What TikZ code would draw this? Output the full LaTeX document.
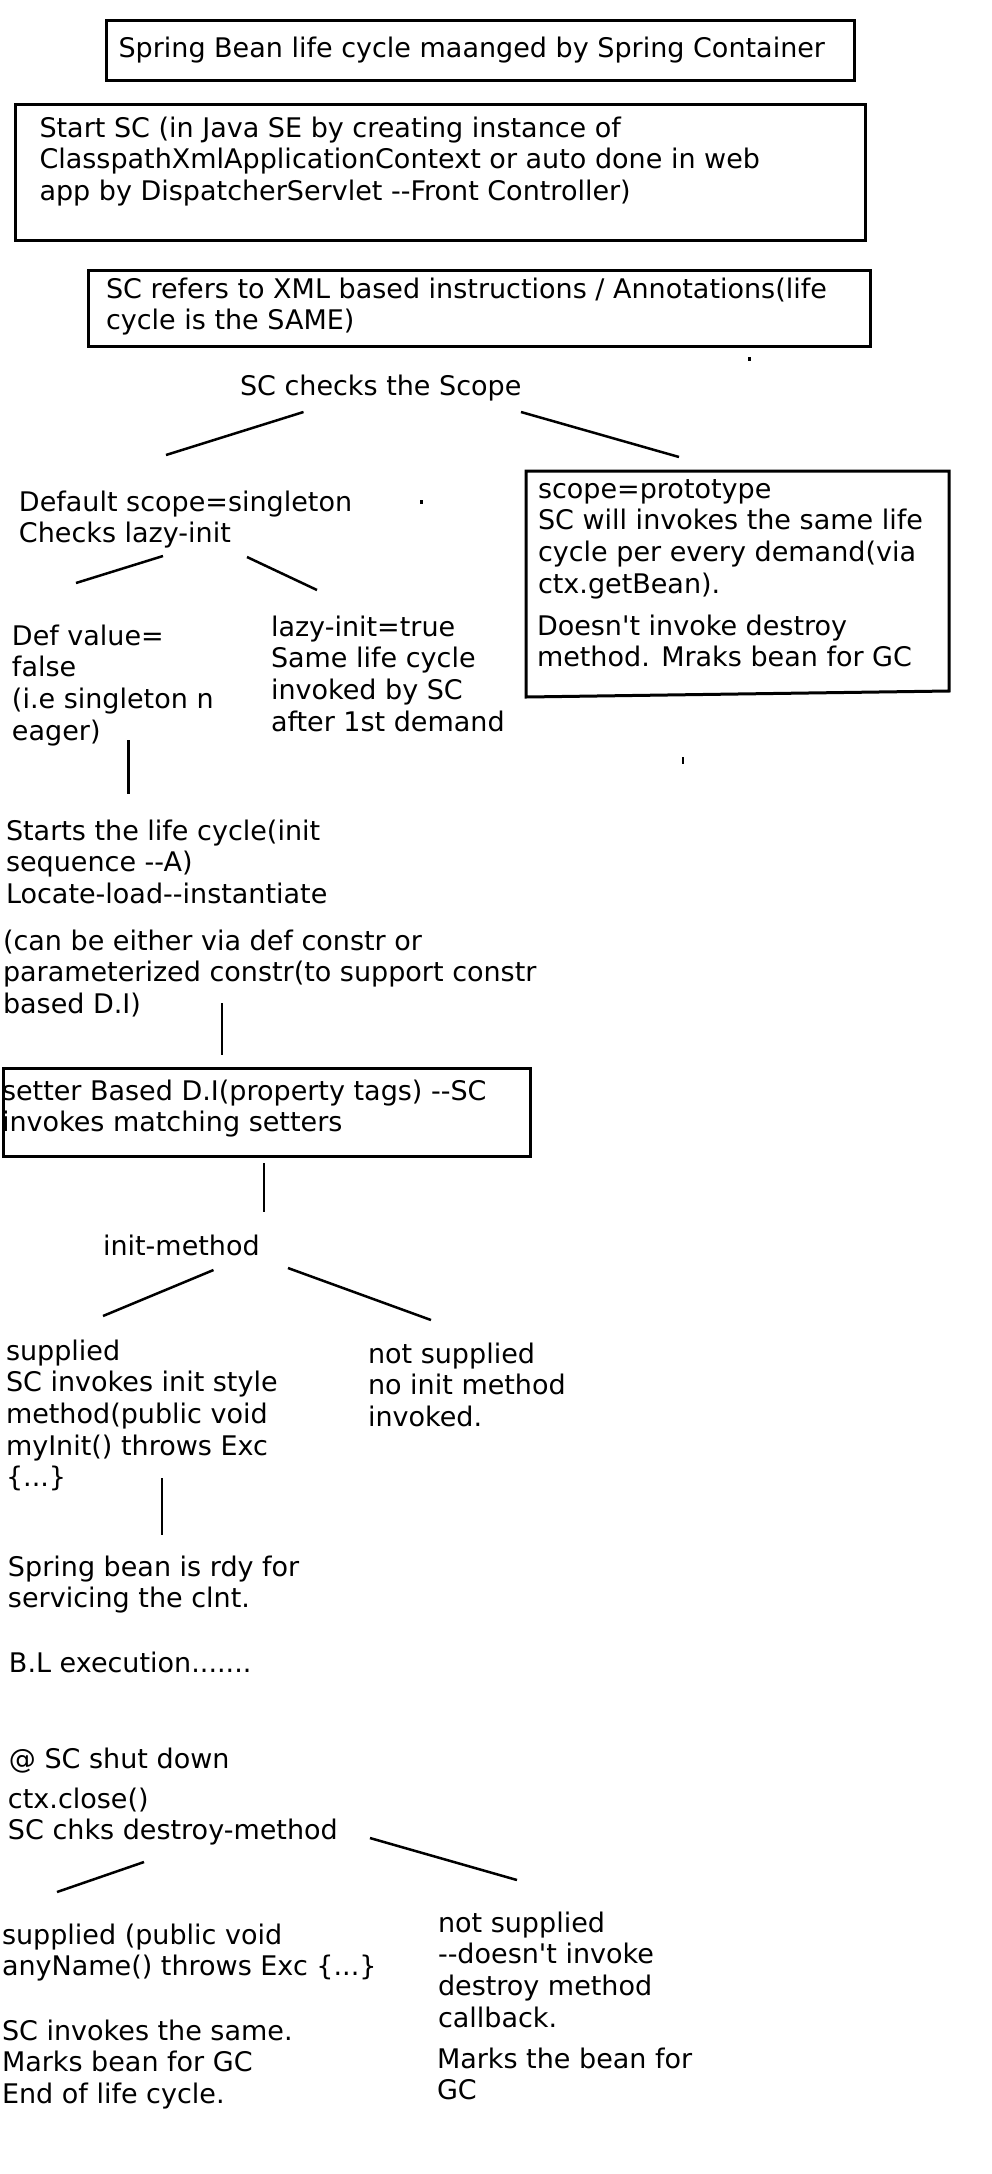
\documentclass[tikz,border=0pt]{standalone}
\usepackage{fontspec}
\newfontfamily\vfont{DejaVu Sans}[Ligatures=CommonOff]
\newcommand{\ml}[1]{\begin{tabular}[t]{@{}l@{}}#1\end{tabular}}
\begin{document}
\begin{tikzpicture}[x=1pt,y=-1pt,
  txt/.style={anchor=base west, inner sep=0pt, outer sep=0pt, font=\vfont\fontsize{27}{31.7}\selectfont},
  box/.style={draw, line width=3pt, inner sep=0pt, anchor=north west},
  conn/.style={line width=2.5pt},
  speck/.style={fill=black, draw=none}]
\useasboundingbox[fill=white] (0,0) rectangle (992,2174);

% boxes
\node[box, minimum width=748pt, minimum height=60pt] (titlebox) at (105,19) {};
\node[box, minimum width=850pt, minimum height=136pt] (startbox) at (14,103) {};
\node[box, minimum width=782pt, minimum height=76pt] (xmlbox) at (87,269) {};
\coordinate (p1) at (526,471);
\coordinate (p2) at (949,471);
\coordinate (p3) at (949,691);
\coordinate (p4) at (526,697);
\draw[line width=3pt] (p1) -- (p2) -- (p3) -- (p4) -- cycle;
\node[box, minimum width=527pt, minimum height=88pt] (setterbox) at (2,1067) {};

% texts
\node[txt] (title) at (118.5,57) {Spring Bean life cycle maanged by Spring Container};
\node[txt] (start) at (39.5,137) {\ml{Start SC (in Java SE by creating instance of\\ClasspathXmlApplicationContext or auto done in web\\app by DispatcherServlet --Front Controller)}};
\node[txt] (xml) at (106,298) {\ml{SC refers to XML based instructions / Annotations(life\\cycle is the SAME)}};
\node[txt] (scope) at (240,395) {SC checks the Scope};
\node[txt] (proto) at (538,498) {\ml{scope=prototype\\SC will invokes the same life\\cycle per every demand(via\\ctx.getBean).}};
\node[txt] (protod) at (537,635) {\ml{Doesn't invoke destroy\\method. Mraks bean for GC}};
\node[txt] (single) at (19,511) {\ml{Default scope=singleton\\Checks lazy-init}};
\node[txt] (defval) at (12,645) {\ml{Def value=\\false\\(i.e singleton n\\eager)}};
\node[txt] (lazy) at (271,636) {\ml{lazy-init=true\\Same life cycle\\invoked by SC\\after 1st demand}};
\node[txt] (starts) at (6,840) {\ml{Starts the life cycle(init\\sequence --A)\\Locate-load--instantiate}};
\node[txt] (constr) at (3,950) {\ml{(can be either via def constr or\\parameterized constr(to support constr\\based D.I)}};
\node[txt] (setter) at (2,1100) {\ml{setter Based D.I(property tags) --SC\\invokes matching setters}};
\node[txt] (initm) at (103,1255) {init-method};
\node[txt] (isup) at (6,1360) {\ml{supplied\\SC invokes init style\\method(public void\\myInit() throws Exc\\\{...\}}};
\node[txt] (inotsup) at (368,1363) {\ml{not supplied\\no init method\\invoked.}};
\node[txt] (ready) at (8,1576) {\ml{Spring bean is rdy for\\servicing the clnt.}};
\node[txt] (bl) at (9,1672) {B.L execution.......};
\node[txt] (shut) at (9,1768) {@ SC shut down};
\node[txt] (close) at (8,1808) {\ml{ctx.close()\\SC chks destroy-method}};
\node[txt] (dsup) at (2,1944) {\ml{supplied (public void\\anyName() throws Exc \{...\}}};
\node[txt] (dsame) at (2,2040) {\ml{SC invokes the same.\\Marks bean for GC\\End of life cycle.}};
\node[txt] (dnot) at (438,1932) {\ml{not supplied\\--doesn't invoke\\destroy method\\callback.}};
\node[txt] (dmark) at (437,2068) {\ml{Marks the bean for\\GC}};

% connectors
\coordinate (c1a) at (303.5,412); \coordinate (c1b) at (166,455);
\coordinate (c2a) at (521,412); \coordinate (c2b) at (679,457);
\coordinate (c3a) at (163,556); \coordinate (c3b) at (76,583);
\coordinate (c4a) at (247,557); \coordinate (c4b) at (317,590);
\coordinate (c5a) at (128.5,740); \coordinate (c5b) at (128.5,794);
\coordinate (c6a) at (222,1003); \coordinate (c6b) at (222,1055);
\coordinate (c7a) at (264,1163); \coordinate (c7b) at (264,1212);
\coordinate (c8a) at (213.5,1270); \coordinate (c8b) at (103,1316);
\coordinate (c9a) at (288,1268); \coordinate (c9b) at (431,1320);
\coordinate (c10a) at (162,1478); \coordinate (c10b) at (162,1535);
\coordinate (c11a) at (144,1862); \coordinate (c11b) at (57,1892);
\coordinate (c12a) at (370,1838); \coordinate (c12b) at (517,1880);
\foreach \i in {1,...,12} {\draw[conn] (c\i a) -- (c\i b);}

% stray specks
\fill[speck] (748,357) rectangle (751,361);
\fill[speck] (420,500) rectangle (423,504);
\fill[speck] (682,757) rectangle (684,764);
\end{tikzpicture}
\end{document}
